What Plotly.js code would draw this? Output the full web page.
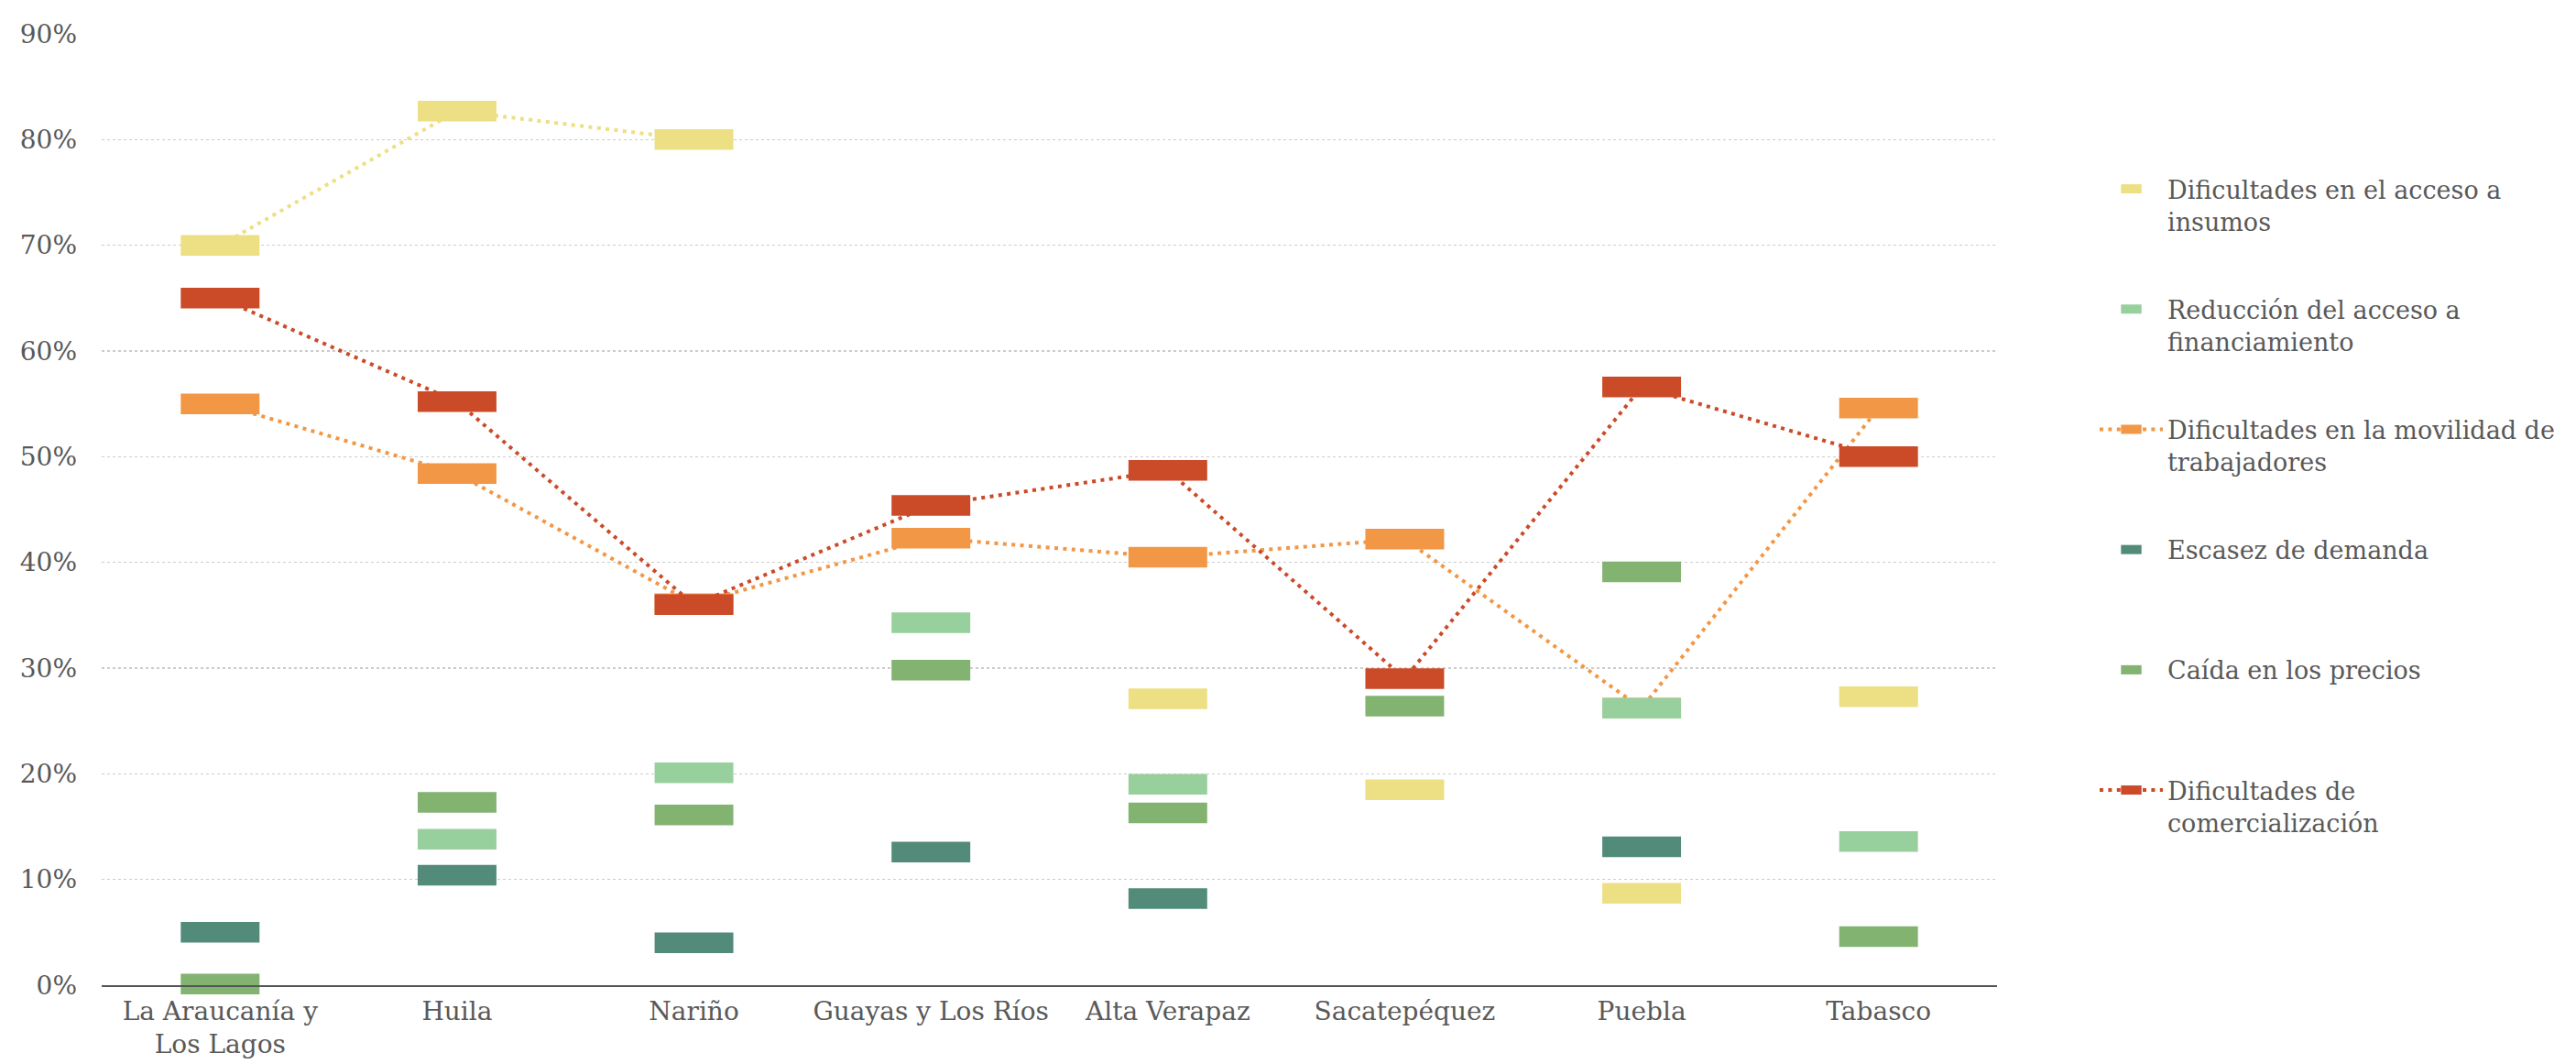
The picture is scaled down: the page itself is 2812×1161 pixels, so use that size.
<!DOCTYPE html>
<html><head><meta charset="utf-8">
<script src="https://cdn.plot.ly/plotly-3.0.1.min.js"></script>
<style>
html,body{margin:0;padding:0;background:#fff;overflow:hidden}
.legend .legendpoints path.scatterpts{stroke-width:10px !important;}
</style>
</head><body><div id="chart" style="width:2812px;height:1161px"></div>
<script>
const categories = ["La Araucanía y<br>Los Lagos","Huila","Nariño","Guayas y Los Ríos","Alta Verapaz","Sacatepéquez","Puebla","Tabasco"];
const seriesNames = ["Dificultades en el acceso a<br>insumos","Reducción del acceso a<br>financiamiento","Dificultades en la movilidad de<br>trabajadores","Escasez de demanda<br> ","Caída en los precios<br> ","Dificultades de<br>comercialización"];
const insumos        = [70.0, 82.7, 80.0, null, 27.1, 18.5, 8.7, 27.3];
const financiamiento = [null, 13.8, 20.1, 34.3, 19.0, null, 26.2, 13.6];
const movilidad      = [55.0, 48.4, 36.1, 42.3, 40.5, 42.2, 26.2, 54.6];
const demanda        = [5.0, 10.4, 4.0, 12.6, 8.2, null, 13.1, null];
const precios        = [0.1, 17.3, 16.1, 29.8, 16.3, 26.4, 39.1, 4.6];
const comercial      = [65.0, 55.2, 36.0, 45.4, 48.7, 29.0, 56.6, 50.0];
const insumosLinked  = 3; // the dotted yellow link covers the first three regions only
const yTicks = [0,10,20,30,40,50,60,70,80,90];

const colors = ["#EDDF83","#98D09D","#F29746","#528B79","#82B370","#CB4A28"];
const FONT = "DejaVu Serif";
const TXT = "#595959";
const MSIZE = 61.4, MH = 22.5;   // line-ew symbol: drawn length = 1.4 * size
const dotDash = "4px,5.4px";
const LW = 4;

function markerTrace(i, y, rank){
  return {type:"scatter", mode:"markers", x:categories, y:y, name:seriesNames[i],
    legendgroup:"g"+i, legendrank:rank, cliponaxis:false,
    marker:{symbol:"line-ew", size:MSIZE, color:colors[i], line:{color:colors[i], width:MH}},
    hoverinfo:"skip"};
}
function lineTrace(i, y, rank){
  return {type:"scatter", mode:"lines+markers", x:categories, y:y, name:seriesNames[i],
    legendgroup:"g"+i, legendrank:rank, cliponaxis:false,
    line:{color:colors[i], width:LW, dash:dotDash},
    marker:{symbol:"line-ew", size:MSIZE, color:colors[i], line:{color:colors[i], width:MH}},
    hoverinfo:"skip"};
}

const data = [
  {type:"scatter", mode:"lines", x:categories.slice(0,insumosLinked), y:insumos.slice(0,insumosLinked),
   showlegend:false, legendgroup:"g0", cliponaxis:false, line:{color:colors[0], width:LW, dash:dotDash}, hoverinfo:"skip"},
  lineTrace(2, movilidad, 3),
  lineTrace(5, comercial, 6),
  markerTrace(0, insumos, 1),
  markerTrace(1, financiamiento, 2),
  markerTrace(3, demanda, 4),
  markerTrace(4, precios, 5)
];

const layout = {
  width:2812, height:1161,
  margin:{l:111, r:632, t:37, b:86},
  paper_bgcolor:"#fff", plot_bgcolor:"#fff",
  font:{family:FONT, size:28, color:TXT},
  showlegend:true,
  legend:{xref:"paper", yref:"paper", x:(2287-111)/2069, y:(1075-182)/1038, xanchor:"left", yanchor:"top",
    font:{family:FONT, size:27, color:TXT}, traceorder:"grouped", tracegroupgap:58,
    itemwidth:69, valign:"top", bgcolor:"rgba(0,0,0,0)"},
  xaxis:{type:"category", range:[-0.5,7.5], showgrid:false, zeroline:false, showline:true,
    linecolor:"#555", linewidth:2, ticks:"", ticklabelstandoff:2, tickfont:{family:FONT, size:28, color:TXT}},
  yaxis:{range:[0,90], tickvals:yTicks, ticktext:yTicks.map(v=>v+"%"), showgrid:true,
    gridcolor:"#cccccc", gridwidth:1.5, griddash:"dot", zeroline:false, showline:false, ticks:"",
    ticklabelstandoff:26, tickfont:{family:FONT, size:28, color:TXT}}
};

Plotly.newPlot("chart", data, layout, {staticPlot:true, displayModeBar:false});
</script></body></html>
